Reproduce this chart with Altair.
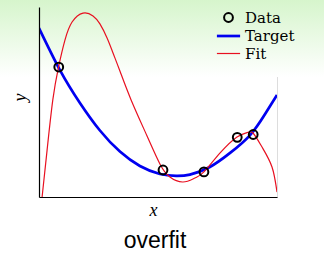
import altair as alt
import pandas as pd

# ---- data (x and y in [0, 1]) ----
target_x = [0.0, 0.088, 0.172, 0.256, 0.340, 0.424, 0.508, 0.576, 0.634, 0.718, 0.803, 0.887, 0.950, 1.0]
target_y = [0.889, 0.668, 0.495, 0.350, 0.239, 0.163, 0.121, 0.111, 0.118, 0.158, 0.232, 0.326, 0.437, 0.537]

fit_x = [0.013, 0.034, 0.058, 0.082, 0.109, 0.139, 0.185, 0.227, 0.256, 0.286, 0.311, 0.340,
         0.387, 0.454, 0.508, 0.550, 0.605, 0.655, 0.693, 0.761, 0.832, 0.874, 0.899, 0.937, 0.979, 1.0]
fit_y = [0.0, 0.247, 0.511, 0.684, 0.826, 0.921, 0.968, 0.953, 0.911, 0.837, 0.758, 0.663,
         0.511, 0.321, 0.174, 0.105, 0.079, 0.100, 0.132, 0.232, 0.316, 0.339, 0.337, 0.263, 0.158, 0.026]

data_x = [0.083, 0.521, 0.693, 0.833, 0.900]
data_y = [0.684, 0.142, 0.132, 0.314, 0.329]

series_names = ["Data", "Target", "Fit"]
series_colors = ["#000000", "#0000f0", "#e81020"]
series_widths = [2.0, 2.7, 1.2]
series_shapes = ["M-0.55,0A0.55,0.55 0 1,1 0.55,0A0.55,0.55 0 1,1 -0.55,0",
                 "M-1.45,0H1.45", "M-1.45,0H1.45"]

title_text = "overfit"
x_title = "x"
y_title = "y"

lines_df = pd.concat([
    pd.DataFrame({"x": target_x, "y": target_y, "series": "Target"}),
    pd.DataFrame({"x": fit_x, "y": fit_y, "series": "Fit"}),
], ignore_index=True)
points_df = pd.DataFrame({"x": data_x, "y": data_y, "series": "Data"})

xscale = alt.Scale(domain=[0, 1], nice=False, zero=False)
yscale = alt.Scale(domain=[0, 1], nice=False, zero=False)

serif = "Liberation Serif"

x_enc = alt.X("x:Q", scale=xscale,
              axis=alt.Axis(title=x_title, ticks=False, labels=False, grid=False,
                            domainColor="black", domainWidth=1.2, zindex=1,
                            titleFont=serif, titleFontStyle="italic", titleFontWeight="normal",
                            titleFontSize=18, titleColor="black", titleAlign="center",
                            titleBaseline="alphabetic", titleX=114, titleY=18))
y_enc = alt.Y("y:Q", scale=yscale,
              axis=alt.Axis(title=y_title, ticks=False, labels=False, grid=False,
                            domainColor="black", domainWidth=1.2, zindex=1,
                            titleFont=serif, titleFontStyle="italic", titleFontWeight="normal",
                            titleFontSize=18, titleColor="black",
                            titleBaseline="alphabetic", titleX=-14, titleY=90, titleAngle=-90))

legend = alt.Legend(title=None, orient="none", legendX=180, legendY=1.5,
                    labelFont="DejaVu Serif", labelFontSize=15, labelColor="black",
                    labelOffset=7, symbolSize=256, rowPadding=-1.5,
                    values=series_names)

color_enc = alt.Color("series:N", scale=alt.Scale(domain=series_names, range=series_colors), legend=legend)
shape_enc = alt.Shape("series:N", scale=alt.Scale(domain=series_names, range=series_shapes), legend=legend)
sw_enc = alt.StrokeWidth("series:N", scale=alt.Scale(type="ordinal", domain=series_names, range=series_widths),
                         legend=legend)

bg = alt.Chart(alt.Data(values=[{"k": 1}])).mark_rect(
    color=alt.LinearGradient(gradient="linear",
                             stops=[alt.GradientStop(color="#d6f5cc", offset=0),
                                    alt.GradientStop(color="#ffffff", offset=1)],
                             x1=0, x2=0, y1=0, y2=1)
).encode(x=alt.value(-39), x2=alt.value(285), y=alt.value(-7), y2=alt.value(70))

lines = alt.Chart(lines_df).mark_line(interpolate="natural", clip=True).encode(
    x=x_enc, y=y_enc, color=color_enc, strokeWidth=sw_enc
)

points = alt.Chart(points_df).mark_point(filled=False, size=256, opacity=1).encode(
    x=x_enc, y=y_enc, color=color_enc, shape=shape_enc, strokeWidth=sw_enc
)

chart = alt.layer(bg, lines, points).properties(
    width=238, height=190,
    title=alt.TitleParams(title_text, orient="bottom", anchor="middle", font="Liberation Sans",
                          fontSize=23, fontWeight="normal", color="black", offset=11, dx=-3),
    autosize=alt.AutoSizeParams(type="none"),
    padding={"left": 39, "top": 7, "right": 47, "bottom": 63},
).configure_view(stroke=None).configure(background="white")

chart.save("out.html", embed_options={"renderer": "svg", "actions": False})
